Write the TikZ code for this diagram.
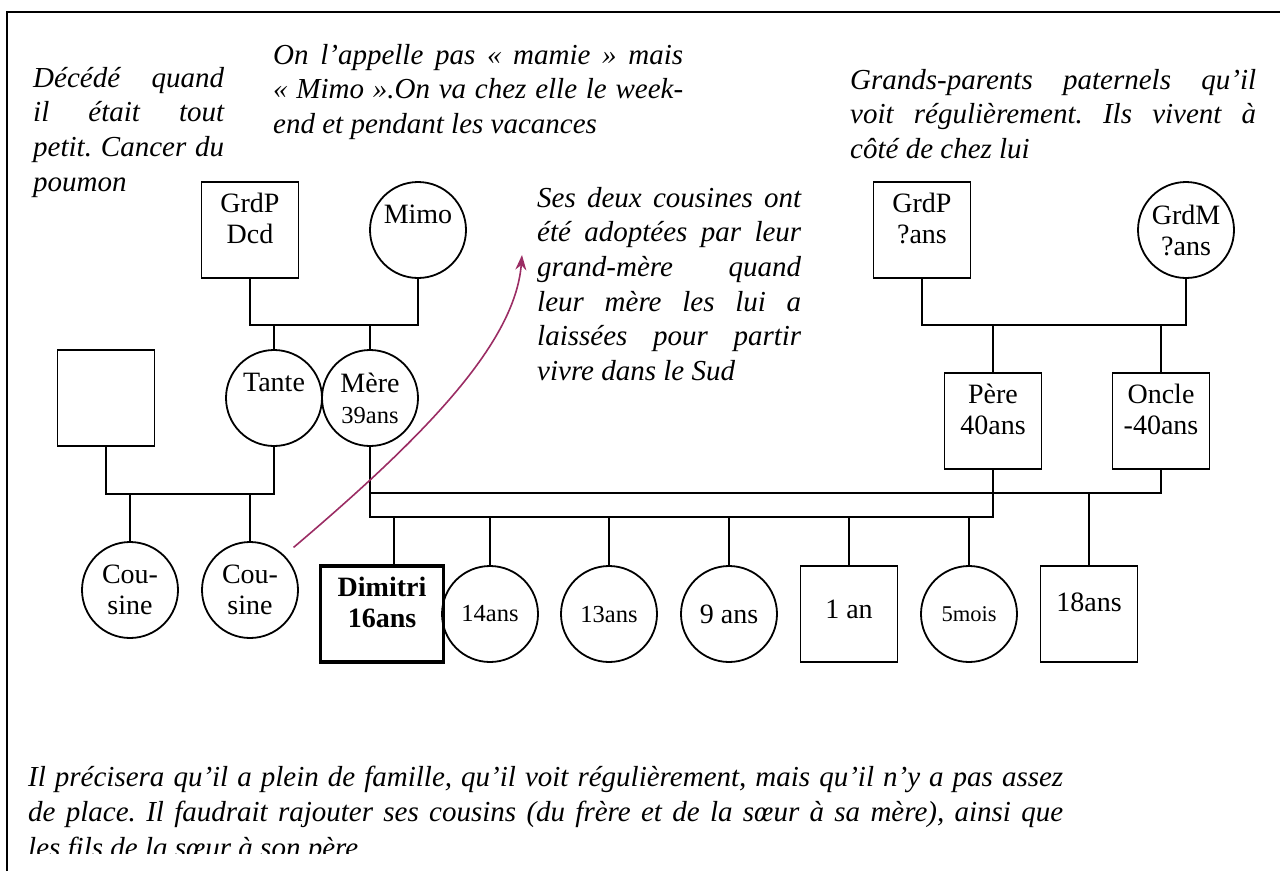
\documentclass[tikz,border=0pt]{standalone}
\usepackage{fontspec}
\setmainfont{Liberation Serif}
\usetikzlibrary{arrows.meta}
\definecolor{prune}{RGB}{155,45,100}
\frenchspacing
\newcommand{\jl}[2]{\makebox[#1][s]{#2}}
\newcommand{\notefont}{\fontsize{29}{34.6}\selectfont\itshape}
\newcommand{\basfont}{\fontsize{29}{35.5}\selectfont\itshape}
\newcommand{\lblfont}{\fontsize{28}{31}\selectfont}
\newcommand{\petitfont}{\fontsize{24.5}{31}\selectfont}

\begin{document}
\begin{tikzpicture}[x=1pt, y=-1pt,
    person/.style={draw, line width=1.8pt, inner sep=0pt, align=center, font=\lblfont},
    homme/.style={person, rectangle, minimum width=97pt, minimum height=96pt, text depth=24pt},
    femme/.style={person, circle, minimum size=96pt},
    note/.style={inner sep=0pt, align=left, anchor=north west, font=\notefont},
    lien/.style={line width=1.8pt},
    fleche/.style={-{Stealth[length=15pt, width=11pt]}, line width=1.6pt, draw=prune}
]
    \useasboundingbox (0,0) rectangle (1280,871);
    \draw[line width=2.5pt] (7,871) -- (7,12) -- (1280,12);

    \node[note] (ndcd) at (33,62.8) {\strut\jl{191pt}{Décédé quand}\\\jl{191pt}{il était tout}\\\jl{191pt}{petit. Cancer du}\\poumon};
    \node[note] (nmimo) at (273,39.8) {\strut\jl{410pt}{On l’appelle pas « mamie » mais}\\\jl{410pt}{« Mimo ».On va chez elle le week-}\\end et pendant les vacances};
    \node[note] (npat) at (850,64.8) {\strut\jl{406pt}{Grands-parents paternels qu’il}\\\jl{406pt}{voit régulièrement. Ils vivent à}\\côté de chez lui};
    \node[note] (nadop) at (537,182.8) {\strut\jl{264pt}{Ses deux cousines ont}\\\jl{264pt}{été adoptées par leur}\\\jl{264pt}{grand-mère quand}\\\jl{264pt}{leur mère les lui a}\\\jl{264pt}{laissées pour partir}\\vivre dans le Sud};

    \node[homme] (gpd) at (250,230) {GrdP\\Dcd};
    \node[femme] (mimo) at (418,230) {Mimo\\\mbox{}};
    \node[homme] (epoux) at (106,398) {};
    \node[femme] (tante) at (274,398) {Tante\\\mbox{}};
    \node[femme] (mere) at (370,398) {Mère\\{\petitfont 39ans}};
    \node[femme] (cous1) at (130,590) {Cou-\\sine};
    \node[femme] (cous2) at (250,590) {Cou-\\sine};

    \node[homme] (gpp) at (922,230) {GrdP\\?ans};
    \node[femme] (gmp) at (1186,230) {GrdM\\?ans};
    \node[homme] (pere) at (993,421) {Père\\40ans};
    \node[homme] (oncle) at (1161,421) {Oncle\\-40ans};

    \node[homme, minimum width=123pt, line width=3.5pt, font=\lblfont\bfseries] (dimitri) at (382,614) {Dimitri\\16ans};
    \node[femme, font=\petitfont] (a14) at (490,614) {14ans};
    \node[femme, font=\petitfont] (a13) at (609,614) {13ans};
    \node[femme] (a9) at (729,614) {9 ans};
    \node[homme, text depth=10pt] (a1) at (849,614) {1 an};
    \node[femme, font=\fontsize{22.5}{31}\selectfont] (a5) at (969,614) {5mois};
    \node[homme] (a18) at (1089,614) {18ans};

    \coordinate (jmat) at (334,325);
    \coordinate (jtan) at (190,494);
    \coordinate (jgp) at (1050,325);
    \coordinate (jpar) at (680,517);
    \coordinate (jonc) at (760,493);
    \coordinate (dim) at ([xshift=12pt]dimitri.north);

    \draw[lien] (gpd.south) |- (jmat) -| (mimo.south);
    \draw[lien] (tante.north) -- (tante.north |- jmat);
    \draw[lien] (mere.north) -- (mere.north |- jmat);
    \draw[lien] (epoux.south) |- (jtan) -| (tante.south);
    \draw[lien] (cous1.north) -- (cous1.north |- jtan);
    \draw[lien] (cous2.north) -- (cous2.north |- jtan);

    \draw[lien] (gpp.south) |- (jgp) -| (gmp.south);
    \draw[lien] (pere.north) -- (pere.north |- jgp);
    \draw[lien] (oncle.north) -- (oncle.north |- jgp);

    \draw[lien] (mere.south) |- (jpar) -| (pere.south);
    \draw[lien] (mere.south) |- (jonc) -| (oncle.south);
    \draw[lien] (dim) -- (dim |- jpar);
    \draw[lien] (a14.north) -- (a14.north |- jpar);
    \draw[lien] (a13.north) -- (a13.north |- jpar);
    \draw[lien] (a9.north) -- (a9.north |- jpar);
    \draw[lien] (a1.north) -- (a1.north |- jpar);
    \draw[lien] (a5.north) -- (a5.north |- jpar);
    \draw[lien] (a18.north) -- (a18.north |- jonc);

    \coordinate (adopt) at (522,255);
    \draw[fleche] ([shift={(9,-8)}]cous2.45) .. controls (420,440) and (515,345) .. (adopt);

    \begin{scope}
        \clip (10,700) rectangle (1280,853);
        \node[note, font=\basfont] (nbas) at (28,761.2) {\strut\jl{1035pt}{Il précisera qu’il a plein de famille, qu’il voit régulièrement, mais qu’il n’y a pas assez}\\\jl{1035pt}{de place. Il faudrait rajouter ses cousins (du frère et de la sœur à sa mère), ainsi que}\\les fils de la sœur à son père};
    \end{scope}
\end{tikzpicture}
\end{document}
